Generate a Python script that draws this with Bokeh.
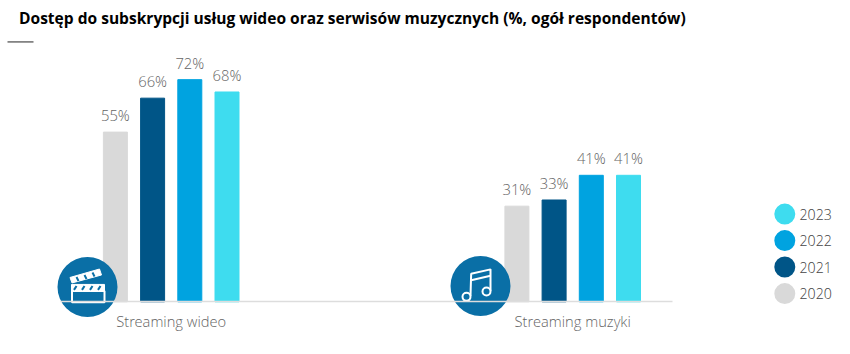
from bokeh.plotting import figure
from bokeh.models import Range1d, FixedTicker, ColumnDataSource, Title
from bokeh.core.properties import value
from bokeh.embed import file_html
from bokeh.resources import INLINE

TITLE = "Dostęp do subskrypcji usług wideo oraz serwisów muzycznych (%, ogół respondentów)"
categories = ["Streaming wideo", "Streaming muzyki"]
years = ["2020", "2021", "2022", "2023"]
v2020 = [55, 31]
v2021 = [66, 33]
v2022 = [72, 41]
v2023 = [68, 41]
series = [v2020, v2021, v2022, v2023]
colors = ["#d9d9d9", "#005587", "#00a3e0", "#3edcef"]

FONT = "Open Sans"
LIGHT = "Open Sans Light"
W, H = 850, 354
TOP = 30
U = 401.5        # px between groups
C0 = 170.7       # page px of first group's centre
PXPER = 3.105    # px per percentage point
BASE = 301.0     # page y of the baseline

def X(px):
    return (px - C0) / U
def Y(py):
    return (BASE - py) / PXPER

p = figure(width=W, height=H, output_backend="svg", toolbar_location=None,
           x_range=Range1d(X(0), X(W)), y_range=Range1d(Y(H), Y(TOP)),
           min_border_left=0, min_border_right=0, min_border_top=TOP, min_border_bottom=0,
           background_fill_color="white", border_fill_color="white", outline_line_color=None)

p.title = Title(text=TITLE, text_font=FONT, text_font_size="15.55px", text_font_style="bold",
                text_color="#000000", align="left", offset=18.5, standoff=8)

p.grid.visible = False
p.yaxis.visible = False
ax = p.xaxis[0]
ax.fixed_location = 0
ax.ticker = FixedTicker(ticks=list(range(len(categories))))
ax.major_label_overrides = {i: c for i, c in enumerate(categories)}
ax.major_tick_line_color = None
ax.minor_tick_line_color = None
ax.axis_line_color = "#dddddd"
ax.axis_line_width = 1.5
ax.bounds = (X(60), X(672))
ax.major_label_text_font = LIGHT
ax.major_label_text_font_size = "14.7px"
ax.major_label_text_color = "#666666"
ax.major_label_standoff = 3

STEP, BW = 37.2 / U, 24.0 / U
for i, (yr, vals, col) in enumerate(zip(years, series, colors)):
    xs = [k + (i - 1.5) * STEP for k in range(len(categories))]
    src = ColumnDataSource(dict(x=xs, top=vals, lab=[f"{v}%" for v in vals]))
    p.vbar(x="x", top="top", bottom=0, width=BW, color=col, source=src)
    p.text(x="x", y="top", text="lab", source=src, text_align="center", text_baseline="bottom",
           y_offset=-7, text_color="#666666", text_font_size="14.8px",
           text_font=value(LIGHT))

# icon discs
BLUE = "#0a6fa6"
disc_px = [(87, 286), (480, 285)]
p.scatter([X(a) for a, b in disc_px], [Y(b) for a, b in disc_px], size=60, marker="circle",
          color=BLUE, line_color=None)

def line(pts, w=2.0, c="white"):
    p.line([X(a) for a, b in pts], [Y(b) for a, b in pts], line_color=c, line_width=w)

# clapperboard
p.patch([X(a) for a in (71.5, 104, 104, 71.5)], [Y(b) for b in (290, 290, 301.5, 301.5)],
        fill_color=None, line_color="white", line_width=2)
p.patch([X(a) for a in (71, 104, 104, 71)], [Y(b) for b in (283.5, 283.5, 290, 290)],
        fill_color="white", line_color="white", line_width=1)
p.patch([X(a) for a in (69.5, 99, 101, 71.5)], [Y(b) for b in (276.5, 268, 274, 282)],
        fill_color="white", line_color="white", line_width=1)
for a in (76, 84, 92, 100):
    line([(a, 285), (a - 2.5, 289)], 2, BLUE)
for a, b in ((76, 276), (84, 274), (92, 271.5)):
    line([(a, b), (a + 2, b + 4)], 2, BLUE)

# music notes
OX, OY = 440, 240
def nt(a, b):
    return (OX + a / 3, OY + b / 3)
line([nt(90, 165), nt(92, 98), nt(150, 85), nt(150, 150)], 2)
line([nt(92, 118), nt(150, 104)], 2)
heads = [nt(78, 168), nt(138, 152)]
p.scatter([X(a) for a, b in heads], [Y(b) for a, b in heads], size=8, marker="circle",
          fill_color=BLUE, line_color="white", line_width=2)

# legend (top to bottom: newest first)
leg_src = ColumnDataSource(dict(
    x=[X(784.3)] * 4,
    xt=[X(799)] * 4,
    y=[Y(212.7), Y(239.4), Y(266), Y(292.7)],
    label=years[::-1],
    color=colors[::-1],
))
p.scatter(x="x", y="y", size=21, marker="circle", color="color", line_color=None, source=leg_src)
p.text(x="xt", y="y", text="label", source=leg_src, text_baseline="middle", text_align="left",
       text_color="#444444", text_font_size="14.2px", text_font=value(LIGHT))

# short rule under the title
line([(7, 39.5), (33, 39.5)], 1, "#222222")

open("out.html", "w").write(file_html(p, INLINE))
